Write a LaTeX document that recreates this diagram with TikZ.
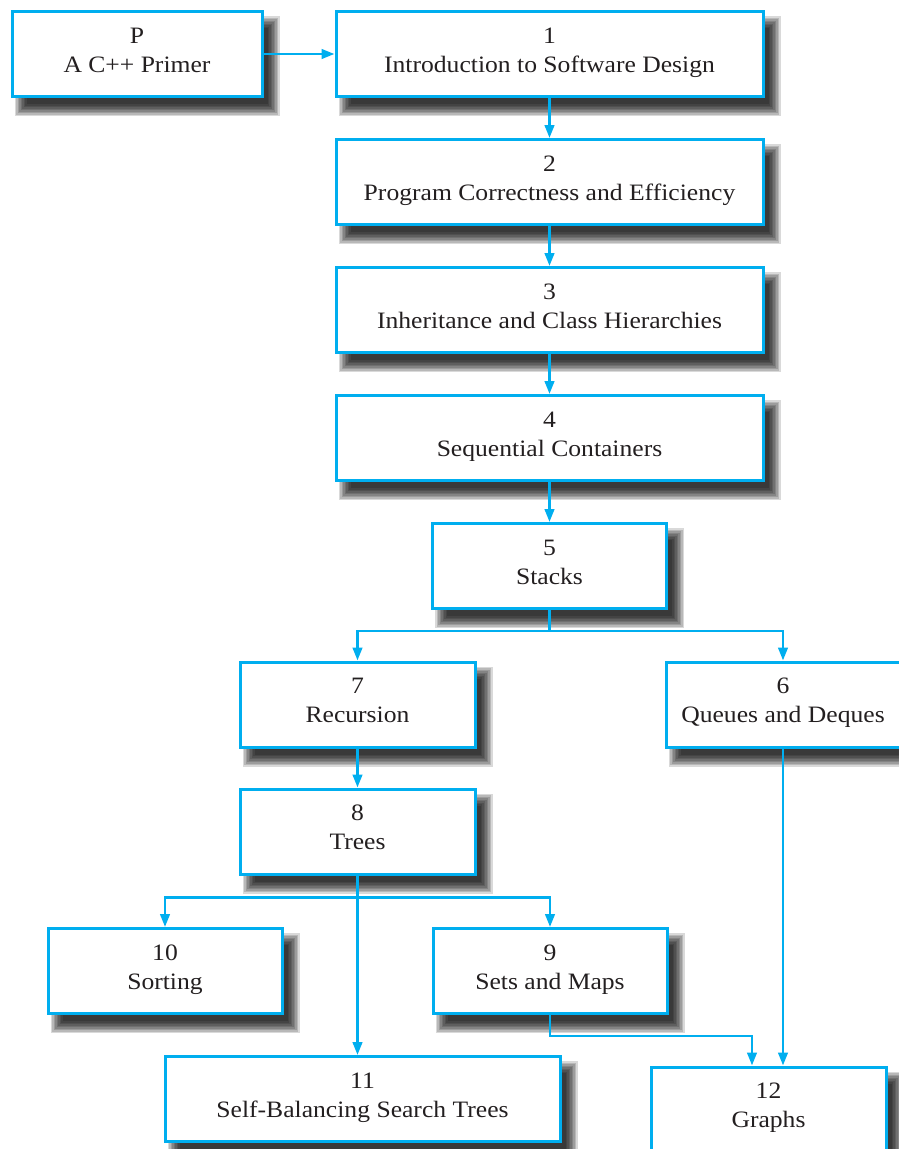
\documentclass[tikz,border=0pt]{standalone}
\usepackage{fontspec}
\setmainfont[FakeStretch=1.09]{Liberation Serif}
\usetikzlibrary{arrows.meta,calc,backgrounds}
\definecolor{chapcyan}{HTML}{00AEEF}
\definecolor{chaptext}{HTML}{231F20}
\begin{document}
\begin{tikzpicture}[x=1pt,y=-1pt,
  chapbox/.style={draw=chapcyan, line width=3pt, fill=white,
    minimum height=85pt, inner sep=0pt, align=center, text=chaptext,
    font=\fontsize{23.5}{29}\selectfont,
    execute at begin node={\rule{0pt}{16pt}},
    execute at end node={\rule[-8pt]{0pt}{8pt}}},
  softshadow/.style={fill=black, opacity=0.15},
  link/.style={draw=chapcyan, line width=2.7pt,
    -{Triangle[length=13pt,width=9.5pt]}}]
\useasboundingbox (0,0) rectangle (898,1149);

% chapter boxes
\node[chapbox, minimum width=250pt] (nP) at (137,54) {P\\A C++ Primer};
\node[chapbox, minimum width=427pt] (n1) at (549.5,54) {1\\Introduction to Software Design};
\node[chapbox, minimum width=427pt] (n2) at (549.5,182) {2\\Program Correctness and Efficiency};
\node[chapbox, minimum width=427pt] (n3) at (549.5,310) {3\\Inheritance and Class Hierarchies};
\node[chapbox, minimum width=427pt] (n4) at (549.5,438) {4\\Sequential Containers};
\node[chapbox, minimum width=234pt] (n5) at (549.5,566) {5\\Stacks};
\node[chapbox, minimum width=235pt] (n7) at (357.5,704.5) {7\\Recursion};
\node[chapbox, minimum width=234pt] (n6) at (783,704.5) {6\\Queues and Deques};
\node[chapbox, minimum width=235pt] (n8) at (357.5,831.5) {8\\Trees};
\node[chapbox, minimum width=234pt] (n10) at (165,971) {10\\Sorting};
\node[chapbox, minimum width=234pt] (n9) at (550,971) {9\\Sets and Maps};
\node[chapbox, minimum width=395pt] (n11) at (362.5,1099) {11\\Self-Balancing Search Trees};
\node[chapbox, minimum width=235pt] (n12) at (768.5,1109.5) {12\\Graphs};

% soft drop shadows: stacked translucent rectangles, offset down and right
\begin{pgfonlayer}{background}
  \fill[white] (0,0) rectangle (898,1149);
  \foreach \n in {nP,n1,n2,n3,n4,n5,n6,n7,n8,n9,n10,n11,n12}
    \foreach \k in {0,1.5,...,12}
      \fill[softshadow] ($(\n.south west)+(16-\k,6+\k)$)
        rectangle ($(\n.north east)+(4+\k,18-\k)$);
\end{pgfonlayer}

% dependencies
\draw[link] (nP.east) -- (n1.west);
\draw[link] (n1.south) -- (n2.north);
\draw[link] (n2.south) -- (n3.north);
\draw[link] (n3.south) -- (n4.north);
\draw[link] (n4.south) -- (n5.north);
\draw[link] (n5.south) -- ++(0,21) -| (n7.north);
\draw[link] (n5.south) -- ++(0,21) -| (n6.north);
\draw[link] (n7.south) -- (n8.north);
\draw[link] (n8.south) -- ++(0,22) -| (n10.north);
\draw[link] (n8.south) -- ++(0,22) -| (n9.north);
\draw[link] (n8.south) -- (n8.south |- n11.north);
\draw[link] (n9.south) -- ++(0,21) -| ([xshift=-16.5pt]n12.north);
\draw[link] (n6.south) -- (n6.south |- n12.north);
\end{tikzpicture}
\end{document}
